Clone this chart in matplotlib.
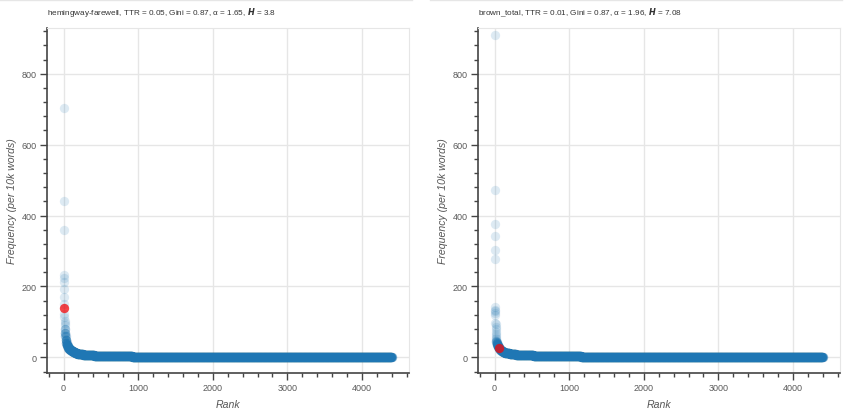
import numpy as np
import matplotlib
matplotlib.use('Agg')
import matplotlib.pyplot as plt
from matplotlib.lines import Line2D
from matplotlib.ticker import MultipleLocator

plt.rcParams['font.family'] = ['Liberation Sans', 'DejaVu Sans']
plt.rcParams['mathtext.fontset'] = 'dejavusans'

# ---------------- data (frequency per 10k words, ordered by rank) ----------------
# hemingway-farewell: top words read one by one, then the rest as
# frequency levels with the number of words sitting on each level
hem_head = [703, 440, 360, 231, 224, 212, 193, 170, 151, 140, 123, 115, 104, 97, 90]
hem_levels = [80, 70, 60, 50, 42, 36, 31, 27, 23, 20, 17, 14.5, 12, 10,
              8.5, 7.5, 6.5, 5.8, 5.2, 4.6, 4.1, 3.6, 3.2, 2.8, 2.5, 2.2, 1.9, 1.7,
              1.5, 1.3, 1.1, 0.9, 0.8, 0.68, 0.57, 0.45, 0.34, 0.23, 0.11]
hem_counts = [3, 4, 5, 7, 8, 8, 10, 12, 15, 18, 22, 25, 30, 38,
              40, 45, 50, 55, 60, 70, 80, 90, 100, 110, 120, 140, 160, 170,
              190, 210, 240, 260, 280, 300, 320, 340, 330, 300, 120]
hem_highlight = 10   # rank of the highlighted word

# brown_total
brown_head = [910, 473, 377, 341, 303, 278, 142, 135, 130, 125, 120, 97, 93, 86, 80,
              72, 66, 60, 55, 51]
brown_levels = [47, 43, 40, 37, 34, 31, 28, 26, 24, 21, 18, 15.5, 13, 11,
                9.5, 8.5, 7.6, 6.8, 6.1, 5.5, 4.9, 4.4, 3.9, 3.5, 3.1, 2.8, 2.5, 2.2,
                1.95, 1.7, 1.5, 1.3, 1.15, 1.0, 0.88, 0.76, 0.65, 0.55, 0.45]
brown_counts = [3, 4, 4, 5, 6, 7, 8, 8, 10, 15, 20, 25, 30, 35,
                40, 45, 50, 55, 60, 70, 80, 90, 100, 110, 120, 140, 160, 170,
                190, 210, 240, 260, 280, 300, 320, 340, 330, 300, 140]
brown_highlight = 60

titles = [
    r'hemingway-farewell, TTR = 0.05, Gini = 0.87, α = 1.65, $\mathbfit{H}$ = 3.8',
    r'brown_total, TTR = 0.01, Gini = 0.87, α = 1.96, $\mathbfit{H}$ = 7.08',
]


def build(head, levels, counts):
    freq = np.concatenate([head, np.repeat(levels, counts)])
    rank = np.arange(1, len(freq) + 1)
    return rank, freq


AX_COL = '#444444'
GRID_COL = '#e6e6e6'
BLUE = '#1f77b4'

fig = plt.figure(figsize=(8.5, 4.14), dpi=100)
positions = [[47 / 850, 1 - 374 / 414, 362 / 850, 345 / 414],
             [478 / 850, 1 - 374 / 414, 362 / 850, 345 / 414]]

datasets = [(hem_head, hem_levels, hem_counts, hem_highlight),
            (brown_head, brown_levels, brown_counts, brown_highlight)]

for pos, (head, levels, counts, hl), title in zip(positions, datasets, titles):
    ax = fig.add_axes(pos)
    rank, freq = build(head, levels, counts)

    ax.scatter(rank, freq, s=45, color=BLUE, alpha=0.15, linewidths=0, zorder=3)
    ax.scatter(rank[hl - 1], freq[hl - 1], s=45, color='red', alpha=0.7,
               linewidths=0, zorder=4)

    ax.set_xlim(-222, 4630)
    ax.set_ylim(-44, 929)

    ax.xaxis.set_major_locator(MultipleLocator(1000))
    ax.xaxis.set_minor_locator(MultipleLocator(200))
    ax.yaxis.set_major_locator(MultipleLocator(200))
    ax.yaxis.set_minor_locator(MultipleLocator(40))

    ax.grid(True, which='major', color=GRID_COL, lw=1, zorder=0)
    ax.set_axisbelow(True)

    for side in ['top', 'right']:
        ax.spines[side].set_color(GRID_COL)
    for side in ['left', 'bottom']:
        ax.spines[side].set_color(AX_COL)
        ax.spines[side].set_linewidth(1.2)

    ax.tick_params(which='major', direction='out', length=5, width=1,
                   color=AX_COL, labelcolor='#5a5a5a', labelsize=6.5, pad=2.5)
    ax.tick_params(which='minor', direction='out', length=3, width=1, color=AX_COL)

    ax.set_xlabel('Rank', fontsize=7.6, style='italic', color='#555555', labelpad=5)
    ax.set_ylabel('Frequency (per 10k words)', fontsize=7.6, style='italic',
                  color='#555555', labelpad=3)

    ax.text(0.0, 1 + 14 / 345, title, transform=ax.transAxes, fontsize=5.9,
            color='#333333', ha='left', va='baseline')

# faint figure borders at the top
fig.add_artist(Line2D([0, 412 / 850], [0.998, 0.998], color='#e6e6e6', lw=1))
fig.add_artist(Line2D([430 / 850, 842 / 850], [0.998, 0.998], color='#e6e6e6', lw=1))

plt.savefig('out.png', dpi=100)
